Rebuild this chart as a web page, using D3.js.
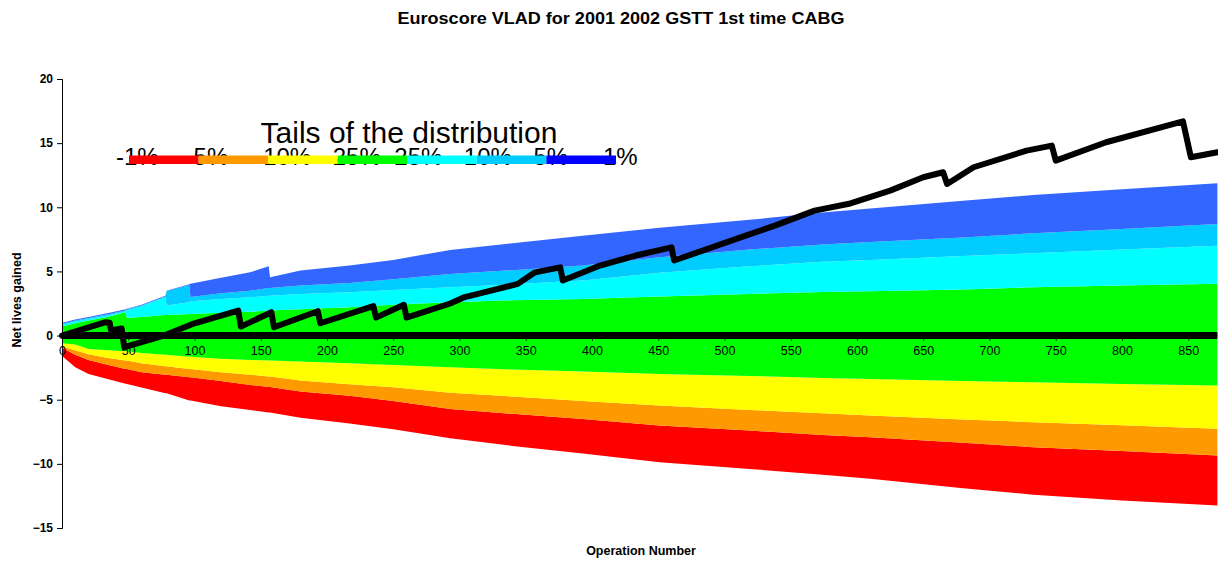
<!DOCTYPE html>
<html>
<head>
<meta charset="utf-8">
<script src="https://cdn.jsdelivr.net/npm/d3@7"></script>
<style>
  html, body { margin: 0; padding: 0; background: #fff; }
  svg { display: block; font-family: "Liberation Sans", Arial, sans-serif; }
</style>
</head>
<body>
<svg id="chart" width="1218" height="561"></svg>
<script>
// ---- data ----
const ops = [0,10,20,35,48,49,60,78,79,96,97,120,142,156,157,180,217,250,293,340,393,451,519,574,610,680,733,800,872];
const q1p  = [1.0,1.25,1.45,1.75,2.05,2.1,2.4,3.1,3.5,4.0,4.03,4.5,4.93,5.4,4.55,5.07,5.46,5.9,6.68,7.2,7.79,8.4,9.02,9.6,9.9,10.5,10.95,11.4,11.87];
const q5p  = [0.92,1.17,1.37,1.67,1.97,2.05,2.35,3.05,3.45,3.95,3.0,3.3,3.5,3.7,3.7,3.9,4.1,4.4,4.8,5.1,5.46,6.1,6.7,7.1,7.3,7.65,7.97,8.3,8.7];
const q10p = [0.84,1.09,1.29,1.59,1.89,1.98,2.28,2.98,2.34,2.6,2.67,2.85,2.99,3.1,3.1,3.25,3.38,3.55,3.77,4.0,4.29,4.9,5.4,5.75,5.9,6.2,6.42,6.7,7.0];
const q25p = [0.72,0.97,1.17,1.47,1.82,1.38,1.45,1.6,1.6,1.69,1.69,1.78,1.85,1.95,1.95,2.05,2.2,2.4,2.6,2.75,2.86,3.05,3.25,3.4,3.45,3.6,3.77,3.9,4.03];
const q25n = [-0.6,-0.7,-1.05,-1.15,-1.22,-1.22,-1.35,-1.5,-1.5,-1.65,-1.65,-1.8,-1.9,-1.95,-1.95,-2.02,-2.15,-2.3,-2.47,-2.65,-2.8,-2.99,-3.15,-3.3,-3.38,-3.55,-3.64,-3.78,-3.9];
const q10n = [-0.85,-1.15,-1.45,-1.75,-1.95,-1.95,-2.15,-2.4,-2.4,-2.6,-2.6,-2.85,-3.05,-3.2,-3.2,-3.5,-3.8,-4.03,-4.45,-4.75,-5.1,-5.46,-5.8,-6.05,-6.24,-6.55,-6.75,-7.0,-7.27];
const q5n  = [-0.95,-1.5,-1.9,-2.3,-2.6,-2.6,-2.85,-3.05,-3.05,-3.25,-3.25,-3.55,-3.85,-4.0,-4.0,-4.35,-4.7,-5.1,-5.72,-6.1,-6.5,-7.01,-7.4,-7.75,-7.92,-8.35,-8.7,-9.0,-9.35];
const q1n  = [-1.6,-2.47,-2.99,-3.4,-3.75,-3.77,-4.05,-4.5,-4.5,-5.07,-5.07,-5.5,-5.8,-6.0,-6.0,-6.4,-6.85,-7.3,-8.0,-8.6,-9.2,-9.87,-10.4,-10.85,-11.17,-11.9,-12.4,-12.85,-13.25];

const vladOps  = [0,33,36,37,45,47,77,100,133,135,158,160,193,195,235,237,258,260,293,304,320,344,357,376,378,406,433,460,462,516,538,568,595,625,650,665,668,688,728,747,750,788,846,852,872];
const vladVals = [0,1.04,1.0,0.39,0.55,-0.91,0.0,0.96,1.95,0.7,1.82,0.65,1.9,0.96,2.3,1.4,2.4,1.4,2.5,3.0,3.4,4.03,4.93,5.32,4.29,5.46,6.24,6.88,5.85,7.79,8.57,9.74,10.3,11.3,12.34,12.73,11.82,13.12,14.42,14.81,13.64,15.07,16.7,13.9,14.29];

const legendLabels = ["-1%","-5%","-10%","-25%","25%","10%","5%","1%"];
const legendColors = ["#FF0000","#FF9900","#FFFF00","#00FF00","#00FFFF","#00CCFF","#0000FF"];
const bandColors   = ["#FF0000","#FF9900","#FFFF00","#00FF00","#00FFFF","#00CCFF","#3366FF"];
const xTicks = d3.range(0, 851, 50);
const yTicks = [-15,-10,-5,0,5,10,15,20];

// ---- chart ----
const svg = d3.select("#chart");
const x = d3.scaleLinear().domain([0, 850]).range([62, 1188.25]);
const y = d3.scaleLinear().domain([-15, 20]).range([528, 79]);

const bounds = [q1n, q5n, q10n, q25n, q25p, q10p, q5p, q1p];
const area = d3.area().x(d => x(d.o)).y0(d => y(d.lo)).y1(d => y(d.hi));

const gBands = svg.append("g");
for (let i = 0; i < 7; i++) {
  const lo = bounds[i], hi = bounds[i + 1];
  const data = ops.map((o, k) => ({o, lo: lo[k], hi: hi[k]}));
  gBands.append("path").attr("d", area(data)).attr("fill", bandColors[i]).attr("stroke", "none");
}

// y axis
const yAxis = d3.axisLeft(y).tickValues(yTicks).tickSize(5).tickPadding(4).tickFormat(d3.format("d"));
const gy = svg.append("g").attr("transform", "translate(62,0)").call(yAxis);
gy.select(".domain").attr("stroke", "#000");
gy.selectAll(".tick line").attr("stroke", "#000");
gy.selectAll("text").attr("font-size", "12px").attr("font-weight", "bold")
  .attr("font-family", "'Liberation Sans', Arial, sans-serif").attr("fill", "#000");

// x axis at y=0
const xAxis = d3.axisBottom(x).tickValues(xTicks).tickSize(5).tickPadding(6).tickFormat(d3.format("d"));
const gx = svg.append("g").attr("transform", `translate(0,${y(0)})`).call(xAxis);
gx.select(".domain").attr("stroke", "#000").attr("d", `M${x(0)},0H${x(872)}`);
gx.selectAll(".tick line").attr("stroke", "#000");
gx.selectAll("text").attr("font-size", "12.5px")
  .attr("font-family", "'Liberation Sans', Arial, sans-serif").attr("fill", "#000");

// zero (target) line
svg.append("path")
  .attr("d", d3.line().x(d => x(d)).y(() => y(0))([0, 872]))
  .attr("stroke", "#000").attr("stroke-width", 7).attr("fill", "none");

// VLAD line
const line = d3.line().x(d => x(d[0])).y(d => y(d[1]));
svg.append("path")
  .attr("d", line(vladOps.map((o, i) => [o, vladVals[i]])))
  .attr("stroke", "#000").attr("stroke-width", 6).attr("fill", "none")
  .attr("stroke-linejoin", "round").attr("stroke-linecap", "round");

// titles
svg.append("text").attr("x", 621).attr("y", 24).attr("text-anchor", "middle")
  .attr("font-size", "16px").attr("font-weight", "bold")
  .attr("textLength", 447).attr("lengthAdjust", "spacingAndGlyphs")
  .text("Euroscore VLAD for 2001 2002 GSTT 1st time CABG");
svg.append("text").attr("x", 641).attr("y", 555).attr("text-anchor", "middle")
  .attr("font-size", "12.5px").attr("font-weight", "bold").text("Operation Number");
svg.append("text").attr("transform", "translate(21,300) rotate(-90)").attr("text-anchor", "middle")
  .attr("font-size", "12.5px").attr("font-weight", "bold").text("Net lives gained");

// legend
const lg = svg.append("g");
lg.append("text").attr("x", 409).attr("y", 143).attr("text-anchor", "middle")
  .attr("font-size", "30px").text("Tails of the distribution");
const legX = d3.scaleLinear().domain([0, 7]).range([129, 616]);
lg.selectAll("text.lab").data(legendLabels).enter().append("text").attr("class", "lab")
  .attr("x", (d, i) => legX(i) - 13).attr("y", 165).attr("font-size", "24px").text(d => d);
lg.selectAll("rect").data(legendColors).enter().append("rect")
  .attr("x", (d, i) => legX(i)).attr("y", 155.5)
  .attr("width", (d, i) => legX(i + 1) - legX(i)).attr("height", 8.5)
  .attr("fill", d => d);
</script>
</body>
</html>
